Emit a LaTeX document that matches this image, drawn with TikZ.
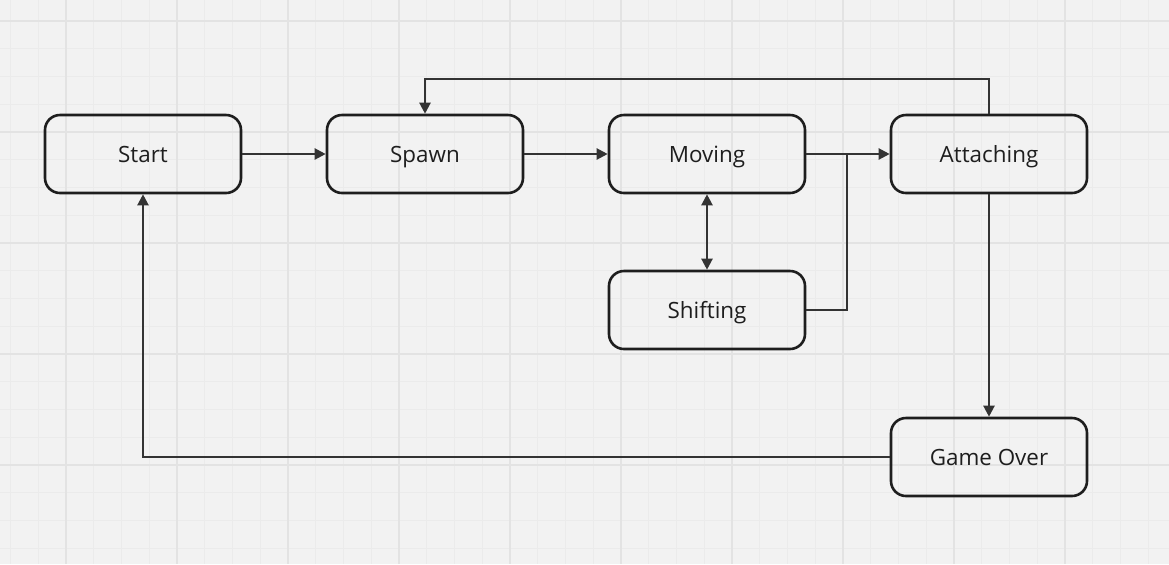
\documentclass[tikz,border=0pt]{standalone}
\usepackage{fontspec}
\setmainfont{Open Sans}
\usepackage{tikz}
\usetikzlibrary{arrows.meta,calc}

\definecolor{boardbg}{HTML}{F2F2F2}
\definecolor{gridminor}{HTML}{EBEBEB}
\definecolor{gridmajor}{HTML}{E3E3E3}
\definecolor{boxline}{HTML}{1E1E1E}
\definecolor{wire}{HTML}{333333}

\tikzset{
    state/.style = {draw = boxline, line width = 1.3pt, rounded corners = 7.5pt, minimum width = 98pt, minimum height = 39pt, inner sep = 0pt, text height = 8pt, text depth = 0pt, font = \fontsize{11.2}{13}\selectfont, text = boxline},
    tip/.style = {-{Triangle[length = 5.5pt, width = 5.5pt]}},
    flow/.style = {draw = wire, line width = 1.1pt, tip},
    link/.style = {draw = wire, line width = 1.1pt},
    minorline/.style = {draw = gridminor, line width = 0.5pt},
    majorline/.style = {draw = gridmajor, line width = 0.8pt}
}

\begin{document}
\begin{tikzpicture}[x = 0.5pt, y = -0.5pt]
        % Hintergrund
            \fill[boardbg] (0, 0) rectangle (1169, 564);
            \useasboundingbox (0, 0) rectangle (1169, 564);

        % Raster
            \foreach \i in {0,...,41}
                \draw[minorline] (10.5 + 27.75*\i, 0) -- ++(0, 564);
            \foreach \j in {0,...,20}
                \draw[minorline] (0, 21 + 27.75*\j) -- ++(1169, 0);
            \foreach \i in {0,...,9}
                \draw[majorline] (66 + 111*\i, 0) -- ++(0, 564);
            \foreach \j in {0,...,4}
                \draw[majorline] (0, 21 + 111*\j) -- ++(1169, 0);

        % Zustaende
            \node[state] (start) at (143, 154) {Start};
            \node[state] (spawn) at (425, 154) {Spawn};
            \node[state] (moving) at (707, 154) {Moving};
            \node[state] (attaching) at (989, 154) {Attaching};
            \node[state] (shifting) at (707, 310) {Shifting};
            \node[state] (gameover) at (989, 457) {Game Over};

        % Hilfspunkte
            \coordinate (join) at (847, 154);
            \coordinate (loop) at (707, 79);

        % Pfeile
            \draw[flow] (start) -- (spawn);
            \draw[flow] (spawn) -- (moving);
            \draw[flow] (moving) -- (attaching);
            \draw[link] (shifting.east) -| (join);
            \draw[flow, {Triangle[length = 5.5pt, width = 5.5pt]}-{Triangle[length = 5.5pt, width = 5.5pt]}] (moving) -- (shifting);
            \draw[flow] (attaching.north) |- (loop) -| (spawn.north);
            \draw[flow] (attaching) -- (gameover);
            \draw[flow] (gameover.west) -| (start.south);
    \end{tikzpicture}
\end{document}
